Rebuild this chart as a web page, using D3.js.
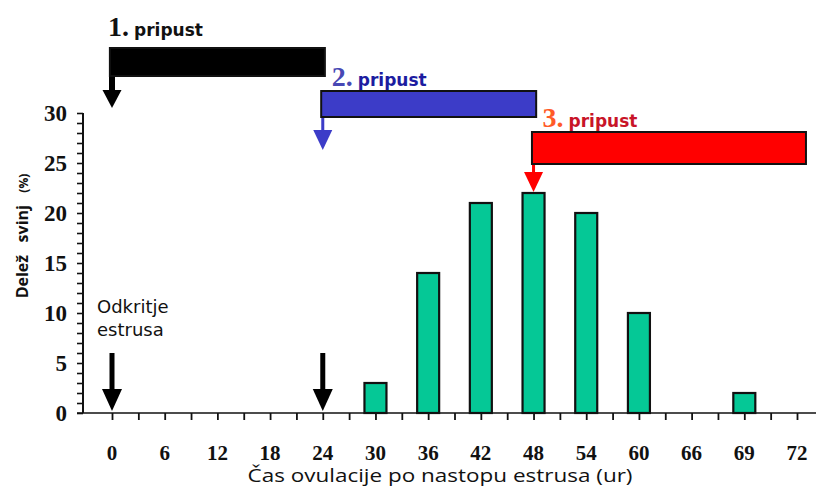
<!DOCTYPE html>
<html>
<head>
<meta charset="utf-8">
<script src="https://cdn.jsdelivr.net/npm/d3@7"></script>
<style>
  body { margin: 0; background: #fff; }
  .tickSerif { font-family: "Liberation Serif", serif; font-weight: bold; fill: #111; }
  .sansLbl { font-family: "DejaVu Sans", sans-serif; }
</style>
</head>
<body>
<div id="chart"></div>
<script>
// chart data
var categories = ["0", "6", "12", "18", "24", "30", "36", "42", "48", "54", "60", "66", "69", "72"];
var shares = [0, 0, 0, 0, 0, 3, 14, 21, 22, 20, 10, 0, 2, 0];
var yTicks = [0, 5, 10, 15, 20, 25, 30];

// insemination windows (index on category axis, y in % units)
var doseLabels = ["1.", "2.", "3."];
var doseFrom = [-0.04, 3.97, 7.97];
var doseTo = [4.04, 8.05, 13.17];
var doseTop = [36.5, 32.2, 28.1];
var doseBottom = [33.7, 29.6, 24.9];
var doseArrowTip = [30.5, 26.3, 22.1];
var doseArrowAt = ["0", "24", "48"];
var estrusArrows = ["0", "24"];

var svgWidth = 816;
var svgHeight = 490;

var svg = d3.select("#chart")
    .append("svg")
    .attr("width", svgWidth)
    .attr("height", svgHeight);

// scales
var xIdx = d3.scaleLinear().domain([0, categories.length - 1]).range([112, 797]);
var x = d => xIdx(categories.indexOf(d));
var y = d3.scaleLinear().domain([0, 30]).range([413, 113]);

// y axis
var leftAxis = d3.axisLeft(y).tickValues(d3.range(0, 31, 1)).tickSize(6).tickFormat("");
var yG = svg.append("g").attr("transform", "translate(83,0)").call(leftAxis);
yG.select(".domain").attr("stroke", "#111").attr("stroke-width", 2).attr("d", "M0," + y(30) + "V" + y(0));
yG.selectAll(".tick line").attr("stroke", "#111").attr("stroke-width", 1.6);
svg.selectAll(".ylab")
    .data(yTicks)
    .enter()
    .append("text")
    .attr("class", "tickSerif")
    .attr("x", 67)
    .attr("y", d => y(d) + 8)
    .attr("text-anchor", "end")
    .attr("font-size", 24)
    .attr("textLength", d => String(d).length * 11.5)
    .attr("lengthAdjust", "spacingAndGlyphs")
    .text(d => d);

// x axis
var bottomAxis = d3.axisBottom(xIdx).tickValues(d3.range(0, 13.5, 0.5)).tickSize(7).tickFormat("");
var xG = svg.append("g").attr("transform", "translate(0,413)").call(bottomAxis);
xG.select(".domain").attr("stroke", "#111").attr("stroke-width", 1.6).attr("d", "M77,0H816");
xG.selectAll(".tick line").attr("stroke", "#111").attr("stroke-width", 1.8);
svg.selectAll(".xlab")
    .data(categories)
    .enter()
    .append("text")
    .attr("class", "tickSerif")
    .attr("x", d => x(d))
    .attr("y", 460)
    .attr("text-anchor", "middle")
    .attr("font-size", 22)
    .attr("textLength", d => d.length * 10.5)
    .attr("lengthAdjust", "spacingAndGlyphs")
    .text(d => d);

// bars
svg.selectAll(".bar")
    .data(categories.map((c, i) => ({ c: c, v: shares[i] })).filter(d => d.v > 0))
    .enter()
    .append("rect")
    .attr("x", d => x(d.c) - 11)
    .attr("y", d => y(d.v))
    .attr("width", 22)
    .attr("height", d => y(0) - y(d.v))
    .attr("fill", "#05c896")
    .attr("stroke", "#111")
    .attr("stroke-width", 2.2);

// axis titles
svg.append("text")
    .attr("x", 440)
    .attr("y", 482)
    .attr("text-anchor", "middle")
    .attr("font-family", "Open Sans, sans-serif")
    .attr("font-size", 18)
    .attr("textLength", 385)
    .attr("lengthAdjust", "spacingAndGlyphs")
    .attr("fill", "#111")
    .text("Čas ovulacije po nastopu estrusa (ur)");

var yTitle = svg.append("text")
    .attr("transform", "translate(28,236) rotate(-90)")
    .attr("text-anchor", "middle")
    .attr("font-family", "Open Sans, sans-serif")
    .attr("font-weight", "bold")
    .attr("fill", "#111")
    .attr("xml:space", "preserve");
yTitle.append("tspan").attr("font-size", 16).text("Delež   svinj   ");
yTitle.append("tspan").attr("font-size", 12).text("(%)");

// arrow helper: shaft + head pointing down
function arrow(cx, yFrom, yTip, color, shaftW, headW, headH) {
    svg.append("rect")
        .attr("x", cx - shaftW / 2)
        .attr("y", yFrom)
        .attr("width", shaftW)
        .attr("height", yTip - headH - yFrom + 1)
        .attr("fill", color);
    svg.append("path")
        .attr("d", `M${cx - headW / 2},${yTip - headH}L${cx + headW / 2},${yTip - headH}L${cx},${yTip}Z`)
        .attr("fill", color);
}

// estrus detection arrows
estrusArrows.forEach(function(c) {
    arrow(x(c), y(6), y(0.2), "#000", 5, 20, 22);
});
var odk = svg.append("text").attr("class", "sansLbl").attr("font-size", 18).attr("fill", "#111");
odk.append("tspan").attr("x", 97).attr("y", 313).text("Odkritje");
odk.append("tspan").attr("x", 97).attr("y", 336).text("estrusa");

// insemination windows
var doseFill = ["#000000", "#3c3cc8", "#ff0000"];
var doseArrow = ["#000000", "#3c3cc8", "#ff0000"];
var numColor = ["#111111", "#4848b4", "#ff5a28"];
var wordColor = ["#111111", "#1c1ca0", "#c81428"];

doseLabels.forEach(function(lbl, i) {
    var x0 = xIdx(doseFrom[i]);
    var x1 = xIdx(doseTo[i]);
    var ax = x(doseArrowAt[i]);
    if (i === 0) {
        arrow(ax, y(doseBottom[i]) - 1, y(doseArrowTip[i]), doseArrow[i], 6, 19, 18);
    } else {
        arrow(ax, y(doseTop[i]) + 2, y(doseArrowTip[i]), doseArrow[i], 3, 19, 20);
    }
    svg.append("rect")
        .attr("x", x0)
        .attr("y", y(doseTop[i]))
        .attr("width", x1 - x0)
        .attr("height", y(doseBottom[i]) - y(doseTop[i]))
        .attr("fill", doseFill[i])
        .attr("stroke", "#111")
        .attr("stroke-width", 2);
    var t = svg.append("text")
        .attr("x", ax - 4 + (i === 0 ? 0 : 13))
        .attr("y", y(doseTop[i]) - 12 + (i === 0 ? 0 : 7));
    t.append("tspan")
        .attr("font-family", "Liberation Serif, serif")
        .attr("font-weight", "bold")
        .attr("font-size", 28)
        .attr("fill", numColor[i])
        .text(lbl);
    t.append("tspan")
        .attr("font-family", "DejaVu Sans, sans-serif")
        .attr("font-weight", "bold")
        .attr("font-size", 17)
        .attr("dx", 5)
        .attr("fill", wordColor[i])
        .text("pripust");
});
</script>
</body>
</html>
